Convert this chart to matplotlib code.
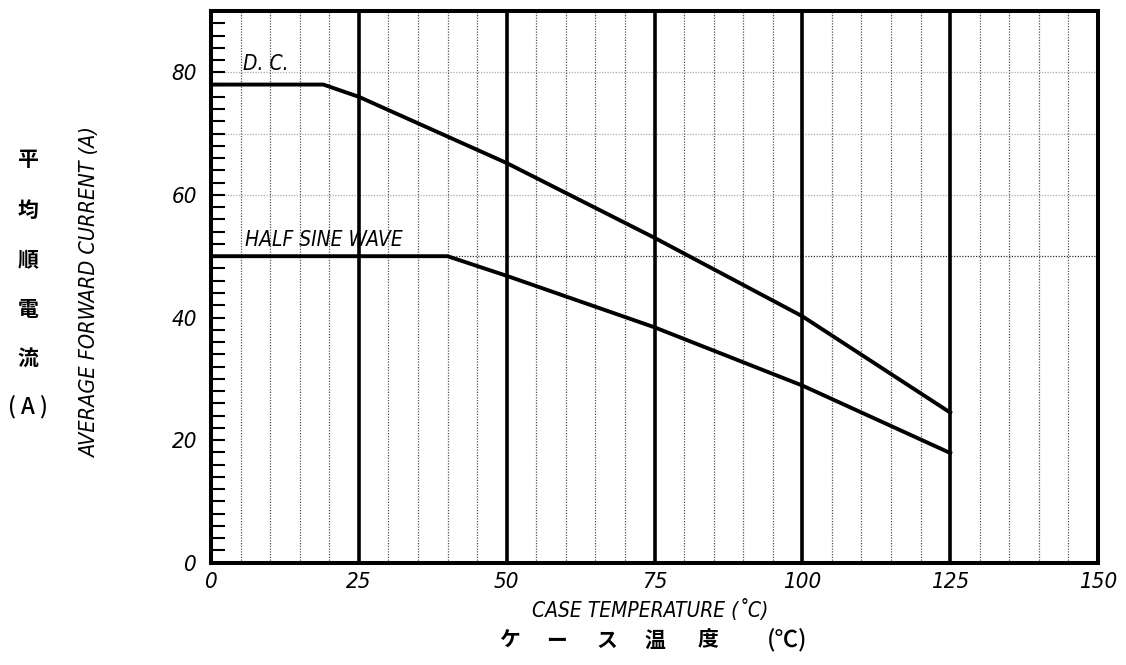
import matplotlib
matplotlib.use("Agg")
import matplotlib.pyplot as plt
from matplotlib import font_manager
import numpy as np

# ---- data ----
x_ticks = [0, 25, 50, 75, 100, 125, 150]
y_ticks = [0, 20, 40, 60, 80]
dc_temp = [0, 19, 25, 50, 75, 100, 125]
dc_current = [78, 78, 76.0, 65.2, 53.0, 40.2, 24.5]
hs_temp = [0, 40, 50, 75, 100, 125]
hs_current = [50, 50, 46.8, 38.4, 28.9, 17.9]
h_grid = [50, 60, 70, 80]
dc_label = "D. C."
hs_label = "HALF SINE WAVE"
xlabel_en = "CASE TEMPERATURE (˚C)"
xlabel_jp = ["ケ", "ー", "ス", "温", "度", "(℃)"]
ylabel_en = "AVERAGE FORWARD CURRENT (A)"
ylabel_jp = ["平", "均", "順", "電", "流", "( A )"]

cond = [f for f in font_manager.fontManager.ttflist
        if f.name == "DejaVu Sans" and "ondensed" in f.fname]
EN = dict(family="DejaVu Sans", style="oblique", stretch="condensed" if cond else "normal")
JP = dict(family=["Noto Sans CJK JP", "DejaVu Sans"], weight="bold")
JPP = dict(family=["Noto Sans CJK JP", "DejaVu Sans"], weight="medium")

W, H = 1126, 665
fig = plt.figure(figsize=(W / 100, H / 100), dpi=100)
ax = fig.add_axes([211 / W, (H - 562.7) / H, (1098 - 211) / W, (562.7 - 11) / H])
ax.set_xlim(0, 150)
ax.set_ylim(0, 90)

# grid
for xv in np.arange(5, 150, 5):
    if xv % 25:
        ax.axvline(xv, color="#555555", lw=0.9, ls=(0, (1, 1.2)), zorder=1)
for xv in x_ticks[1:-1]:
    ax.axvline(xv, color="black", lw=2.6, zorder=2)
for yv in h_grid:
    ax.axhline(yv, color="#333333" if yv == 50 else "#aaaaaa",
               lw=0.9, ls=(0, (1, 1.2)), zorder=1)

# curves
ax.plot(dc_temp, dc_current, color="black", lw=2.8, zorder=3)
ax.plot(hs_temp, hs_current, color="black", lw=2.8, zorder=3)

ax.text(5.4, 81.4, dc_label, fontsize=15, va="center", ha="left", **EN)
ax.text(5.8, 52.6, hs_label, fontsize=15, va="center", ha="left", **EN)

# axes styling
for s in ax.spines.values():
    s.set_linewidth(2.9)
    s.set_color("black")
ax.set_xticks(x_ticks)
ax.set_xticklabels([str(v) for v in x_ticks], fontsize=16, **EN)
ax.set_yticks(y_ticks)
ax.set_yticklabels([str(v) for v in y_ticks], fontsize=16, **EN)
ax.set_yticks(np.arange(0, 90, 2), minor=True)
ax.tick_params(axis="x", which="both", length=0, pad=7)
ax.tick_params(axis="y", which="both", direction="in", length=10, width=1.5,
               left=True, right=False, pad=10)

# labels
fig.text(650 / W, 1 - 610 / H, xlabel_en, fontsize=15, ha="center", va="center", **EN)
xs = [510, 557, 607, 655, 708, 787]
for ch, xp in zip(xlabel_jp, xs):
    props = JPP if ch.startswith("(") else JP
    fig.text(xp / W, 1 - 640 / H, ch, fontsize=17 if ch.startswith("(") else 15,
             ha="center", va="center", **props)

fig.text(90 / W, 1 - 293 / H, ylabel_en, fontsize=15.5, rotation=90,
         ha="center", va="center", **EN)
ys = [160, 210, 260, 310, 358, 407]
for ch, yp in zip(ylabel_jp, ys):
    props = JPP if ch.startswith("(") else JP
    fig.text(28 / W, 1 - yp / H, ch, fontsize=16 if ch.startswith("(") else 15,
             ha="center", va="center", **props)

fig.savefig("out.png", dpi=100)
